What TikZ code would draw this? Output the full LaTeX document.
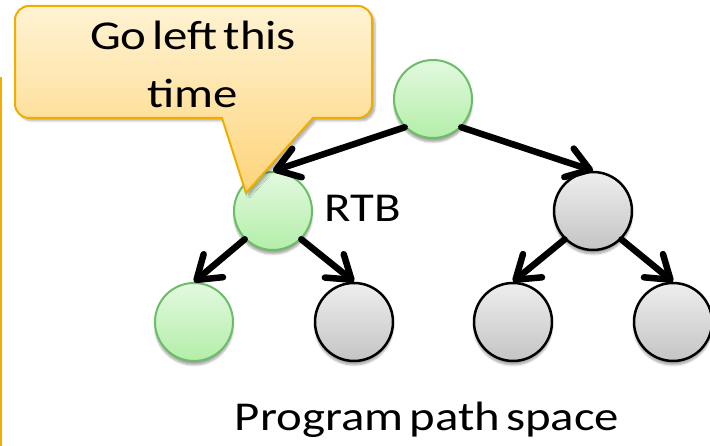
\documentclass[tikz,border=0pt]{standalone}
\usepackage{fontspec}
\setmainfont[FakeStretch=1.19, WordSpace=0.55]{Carlito}
\usetikzlibrary{arrows.meta,shadows.blur}

\definecolor{greenTop}{HTML}{E3F9DF}
\definecolor{greenBot}{HTML}{B3EEA9}
\definecolor{greenRim}{HTML}{6CBD68}
\definecolor{grayTop}{HTML}{EEEEEE}
\definecolor{grayBot}{HTML}{C4C4C4}
\definecolor{noteTop}{HTML}{FFF3D3}
\definecolor{noteBot}{HTML}{FDD47A}
\definecolor{noteRim}{HTML}{F0AD00}

\tikzset{
  treenode/.style={circle, minimum size=78pt, inner sep=0pt, shading=axis,
    blur shadow={shadow xshift=0pt, shadow yshift=-4pt, shadow blur steps=8, shadow opacity=35}},
  visited/.style={treenode, draw=greenRim, line width=2pt, top color=greenTop, bottom color=greenBot},
  unvisited/.style={treenode, draw=black, line width=2.5pt, top color=grayTop, bottom color=grayBot},
  edge/.style={line width=6.5pt, line cap=round,
    -{Straight Barb[length=22pt, width=30pt, round]}},
  label/.style={font=\fontsize{41}{58}\selectfont, inner sep=0pt},
  note/.style={draw=noteRim, line width=2pt, shading=axis, top color=noteTop, bottom color=noteBot,
    blur shadow={shadow xshift=3pt, shadow yshift=-3pt, shadow blur steps=6, shadow opacity=30}}
}

\begin{document}
\begin{tikzpicture}[x=1pt, y=1pt]
  \useasboundingbox (0,0) rectangle (710,446);

  % frame edge on the left
  \draw[noteRim, line width=2pt] (1,0) -- (1,369);

  % execution tree
  \node[visited]   (root) at (433,347) {};
  \node[visited]   (rtb)  at (273,235) {};
  \node[unvisited] (r)    at (593,235) {};
  \node[visited]   (ll)   at (194,124) {};
  \node[unvisited] (lr)   at (354,124) {};
  \node[unvisited] (rl)   at (513,124) {};
  \node[unvisited] (rr)   at (673,124) {};

  \draw[edge] (root.south west) -- (rtb.north);
  \draw[edge] (root.south east) -- (r.north);
  \draw[edge] (rtb.south west)  -- (ll.north);
  \draw[edge] (rtb.south east)  -- (lr.north);
  \draw[edge] (r.south west)    -- (rl.north);
  \draw[edge] (r.south east)    -- (rr.north);

  \node[label, anchor=base west] (rtblabel) at (324,224) {RTB};
  \node[label, anchor=base] (caption) at (427,15) {Program path space};

  % speech bubble pointing at the RTB node
  \path[note]
    (29,440) -- (358,440) arc[start angle=90, end angle=0, radius=14pt]
    -- (372,342) arc[start angle=0, end angle=-90, radius=14pt]
    -- (313,328) -- (246,253) -- (222,328)
    -- (29,328) arc[start angle=270, end angle=180, radius=14pt]
    -- (15,426) arc[start angle=180, end angle=90, radius=14pt] -- cycle;
  \node[label, anchor=base] (tip1) at (193,396) {Go left this};
  \node[label, anchor=base] (tip2) at (193,338) {time};
\end{tikzpicture}
\end{document}
